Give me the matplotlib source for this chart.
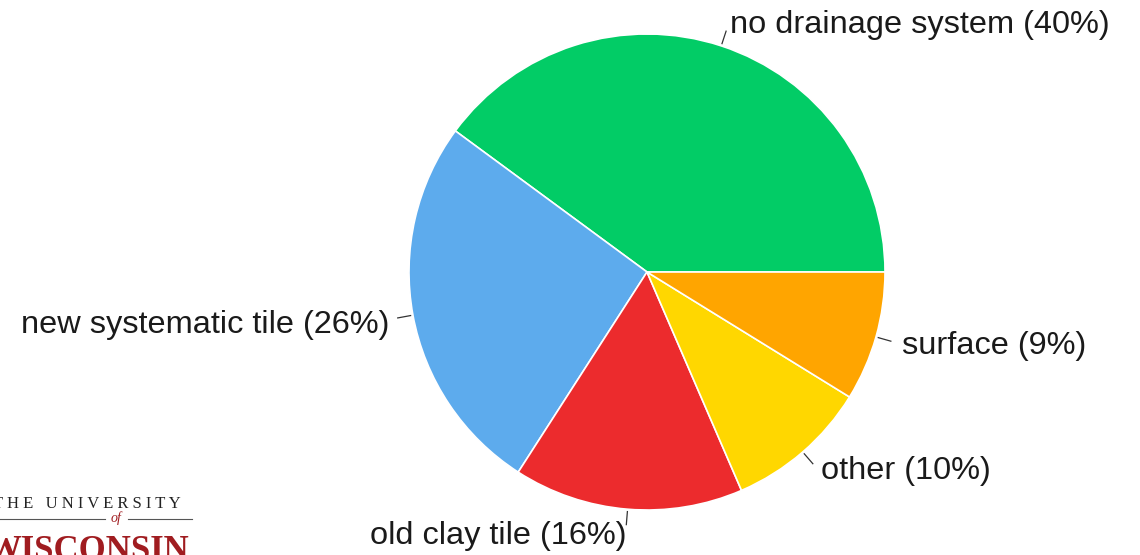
import numpy as np
import matplotlib.pyplot as plt

# drainage share (degrees -> %)
categories = ["no drainage system", "new systematic tile", "old clay tile", "other", "surface"]
shares = [39.9, 26.0, 15.6, 9.7, 8.8]
shown_pct = ["40%", "26%", "16%", "10%", "9%"]
colors = ["#02CC66", "#5DABED", "#EC2B2D", "#FFD700", "#FFA500"]

# label placement per slice (pixel offsets from leader end, alignment)
label_offsets = [(4, 6), (-8, -7), (0, -11), (8, -7), (11, -5)]
label_ha = ["left", "right", "right", "left", "left"]

W, H, dpi = 1140, 555, 100
cx, cy, R = 647, 272, 238

fig = plt.figure(figsize=(W / dpi, H / dpi), dpi=dpi)
ax = fig.add_axes([0, 0, 1, 1])

wedges, _ = ax.pie(shares, colors=colors, startangle=0, counterclock=True,
                   radius=1, center=(0, 0), frame=True,
                   wedgeprops=dict(edgecolor="white", linewidth=1.2))
ax.set_xlim(-cx / R, (W - cx) / R)
ax.set_ylim(-(H - cy) / R, cy / R)
ax.set_aspect("equal")
ax.axis("off")

for w, name, pct, off, ha in zip(wedges, categories, shown_pct, label_offsets, label_ha):
    ang = np.deg2rad((w.theta1 + w.theta2) / 2)
    x0, y0 = 1.01 * np.cos(ang), 1.01 * np.sin(ang)
    x1, y1 = 1.065 * np.cos(ang), 1.065 * np.sin(ang)
    ax.plot([x0, x1], [y0, y1], color="#333333", lw=0.9)
    ax.annotate(f"{name} ({pct})", xy=(x1, y1), xytext=off, textcoords="offset pixels",
                ha=ha, va="center", fontsize=23.4, color="#1a1a1a",
                family=["Liberation Sans", "DejaVu Sans"])

# university logo, bottom left
fig.text(-0.006, 0.077, "T H E   U N I V E R S I T Y", fontsize=12, color="#222222",
         family="Liberation Serif", ha="left", va="bottom")
fig.add_artist(plt.Line2D([0.0, 0.092], [0.065, 0.065], color="#555555", lw=0.8))
fig.add_artist(plt.Line2D([0.112, 0.168], [0.065, 0.065], color="#555555", lw=0.8))
fig.text(0.102, 0.067, "of", fontsize=10, color="#A01C20", style="italic",
         family="Liberation Serif", ha="center", va="center")
fig.text(-0.012, -0.024, "WISCONSIN", fontsize=25, color="#A01C20", weight="bold",
         family="Liberation Serif", ha="left", va="bottom")

fig.savefig("out.png", dpi=dpi, facecolor="white")
